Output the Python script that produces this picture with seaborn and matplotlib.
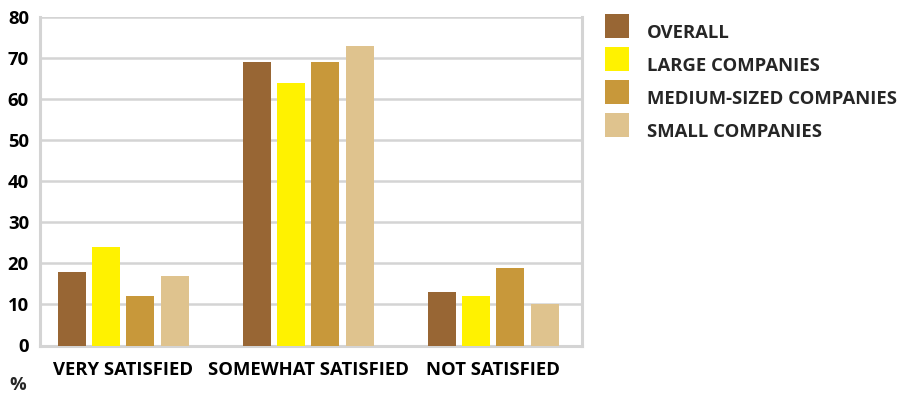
import matplotlib
matplotlib.use("Agg")
import matplotlib.pyplot as plt
import seaborn as sns
import pandas as pd
from matplotlib.patches import Patch

categories = ["VERY SATISFIED", "SOMEWHAT SATISFIED", "NOT SATISFIED"]
series_names = ["OVERALL", "LARGE COMPANIES", "MEDIUM-SIZED COMPANIES", "SMALL COMPANIES"]
overall = [18, 69, 13]
large = [24, 64, 12]
medium = [12, 69, 19]
small = [17, 73, 10]
colors = ["#986634", "#FFF200", "#C8983A", "#DFC38E"]
yticks = [0, 10, 20, 30, 40, 50, 60, 70, 80]

rows = []
for name, vals in zip(series_names, [overall, large, medium, small]):
    for c, v in zip(categories, vals):
        rows.append({"cat": c, "series": name, "value": v})
df = pd.DataFrame(rows)

sns.set_theme(style="white")
plt.rcParams["font.family"] = ["Open Sans", "DejaVu Sans"]
plt.rcParams["font.weight"] = "bold"

FS = 13.3
W = "bold"
fig = plt.figure(figsize=(9.01, 3.95), dpi=100)
ax = fig.add_axes([40/901, 1-345.5/395, (582-40)/901, (345.5-17.3)/395])

sns.barplot(data=df, x="cat", y="value", hue="series", order=categories,
            hue_order=series_names, palette=colors, width=0.74, gap=0.18,
            saturation=1, ax=ax, legend=False, zorder=3, linewidth=0,
            edgecolor="none")

ax.set_xlim(-0.45, 2.48)
ax.set_ylim(0, 80)
ax.set_yticks(yticks)
ax.set_yticklabels([str(t) for t in yticks], fontsize=FS, fontweight=W, color="black")
ax.set_xticks(range(len(categories)))
ax.set_xticklabels(categories, fontsize=FS, fontweight=W, color="black")
ax.tick_params(axis="y", length=0, pad=8)
ax.tick_params(axis="x", length=0, pad=11)
ax.set_xlabel("")
ax.set_ylabel("")
ax.yaxis.grid(True, color="#d4d4d4", linewidth=1.8, zorder=0)
ax.set_axisbelow(True)
for side in ["left", "bottom", "right"]:
    ax.spines[side].set_visible(True)
    ax.spines[side].set_color("#d4d4d4")
    ax.spines[side].set_linewidth(2.2)
ax.spines["top"].set_visible(False)

fig.text(18/901, 1-385/395, "%", fontsize=FS, fontweight=W, ha="center", va="center")

handles = [Patch(facecolor=c, edgecolor="none", label=n) for c, n in zip(colors, series_names)]
leg = fig.legend(handles=handles, loc="upper left", bbox_to_anchor=(605/901, 1-14/395),
                 frameon=False, fontsize=FS, handlelength=1.3, handleheight=1.62,
                 labelspacing=0.485, handletextpad=0.98, borderaxespad=0, borderpad=0)
for t in leg.get_texts():
    t.set_fontweight(W)
    t.set_y(-6)

fig.savefig("out.png", dpi=100)
